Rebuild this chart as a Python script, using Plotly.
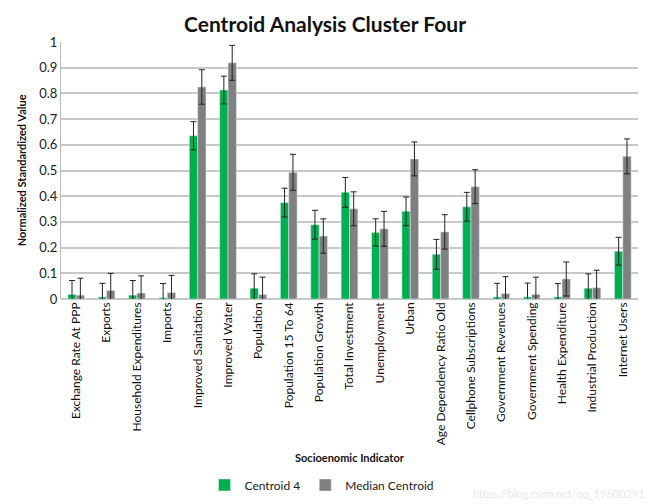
import plotly.graph_objects as go

categories = ["Exchange Rate At PPP", "Exports", "Household Expenditures", "Imports",
              "Improved Sanitation", "Improved Water", "Population", "Population 15 To 64",
              "Population Growth", "Total Investment", "Unemployment", "Urban",
              "Age Dependency Ratio Old", "Cellphone Subscriptions", "Government Revenues",
              "Government Spending", "Health Expenditure", "Industrial Production", "Internet Users"]

centroid4 = [0.018, 0.008, 0.015, 0.005, 0.635, 0.813, 0.042, 0.375, 0.289, 0.415,
             0.259, 0.341, 0.174, 0.359, 0.008, 0.008, 0.008, 0.042, 0.186]
centroid4_err = [0.054, 0.053, 0.057, 0.055, 0.055, 0.054, 0.056, 0.056, 0.056, 0.058,
                 0.053, 0.056, 0.058, 0.056, 0.053, 0.054, 0.052, 0.056, 0.054]

median = [0.015, 0.033, 0.023, 0.025, 0.825, 0.919, 0.017, 0.493, 0.245, 0.351,
          0.273, 0.545, 0.261, 0.437, 0.021, 0.018, 0.078, 0.044, 0.555]
median_err = [0.066, 0.067, 0.067, 0.067, 0.067, 0.068, 0.068, 0.070, 0.067, 0.066,
              0.068, 0.066, 0.067, 0.066, 0.066, 0.067, 0.066, 0.068, 0.068]

FONT = "Lato, 'Open Sans', sans-serif"
W, H = 650, 504
L, R, T, B = 61, 12, 42, 205
PH = H - T - B
PW = W - L - R

def py(px):
    return (H - B - px) / PH

def pxx(px):
    return (px - L) / PW

fig = go.Figure()
fig.add_trace(go.Bar(
    name="Centroid 4", x=categories, y=centroid4, marker_color="#00B050",
    error_y=dict(type="data", array=centroid4_err, visible=True, color="#222222",
                 thickness=1, width=3)))
fig.add_trace(go.Bar(
    name="Median Centroid", x=categories, y=median, marker_color="#808080",
    error_y=dict(type="data", array=median_err, visible=True, color="#222222",
                 thickness=1, width=3)))

fig.update_layout(
    width=W, height=H,
    margin=dict(l=L, r=R, t=T, b=B, autoexpand=False),
    paper_bgcolor="white", plot_bgcolor="white",
    barmode="group", bargap=0.45, bargroupgap=0,
    font=dict(family=FONT, color="#222222"),
    title=dict(text="<b>Centroid Analysis Cluster Four</b>", x=0.5, xanchor="center",
               y=1 - 25 / H, yanchor="middle", font=dict(size=21, family=FONT, color="#111111")),
    showlegend=True,
    legend=dict(orientation="h", x=pxx(322), xanchor="center",
                y=py(485), yanchor="middle",
                font=dict(size=12, family=FONT, color="#222222"), itemwidth=30,
                bgcolor="rgba(0,0,0,0)"),
    xaxis=dict(tickangle=-90, tickfont=dict(size=12, family=FONT, color="#111111"),
               showline=False, ticks="", showgrid=False),
    yaxis=dict(range=[0, 1], dtick=0.1, showgrid=True, gridcolor="#c8c8c8", gridwidth=1.5,
               showline=True, linecolor="#bbbbbb", linewidth=1, ticks="",
               tickfont=dict(size=13, family=FONT, color="#222222"), zeroline=True,
               zerolinecolor="#c8c8c8", zerolinewidth=1.5),
    annotations=[
        dict(text="<b>Normalized Standardized Value</b>", xref="paper", yref="paper",
             x=-0.068, y=0.5, xanchor="center", yanchor="middle", textangle=-90,
             showarrow=False, font=dict(size=11, family=FONT, color="#111111")),
        dict(text="<b>Socioenomic Indicator</b>", xref="paper", yref="paper",
             x=0.5, y=py(457), xanchor="center", yanchor="middle",
             showarrow=False, font=dict(size=11, family=FONT, color="#111111")),
        dict(text="https://blog.csdn.net/qq_19600291", xref="paper", yref="paper",
             x=1.015, y=py(493), xanchor="right", yanchor="middle",
             showarrow=False, font=dict(size=11, family=FONT, color="#e8e8e8")),
    ],
)

post = (
    "document.documentElement.style.margin='0';"
    "document.documentElement.style.padding='0';"
    "document.documentElement.style.overflow='hidden';"
    "document.body.style.margin='0';"
    "document.body.style.padding='0';"
    "document.body.style.overflow='hidden';"
)

fig.write_html("out.html", config={"displayModeBar": False}, post_script=post)
